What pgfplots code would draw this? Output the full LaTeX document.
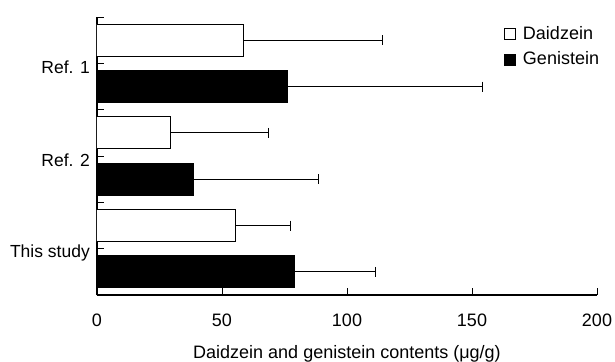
\documentclass[border=0pt]{standalone}
\usepackage{pgfplots}
\pgfplotsset{compat=1.18}
\usepackage{fontspec}
\setmainfont{Liberation Sans}
\begin{document}
\fontsize{18bp}{21bp}\selectfont
\begin{tikzpicture}
\path[use as bounding box] (-97bp,-67bp) rectangle (518bp,295bp);
\begin{axis}[
  at={(0,0)}, anchor=south west,
  scale only axis, width=500bp, height=278bp,
  xmin=0, xmax=200, ymin=0, ymax=6,
  axis x line=bottom, axis y line=left,
  axis line style={-, line width=1.6bp},
  xtick={0,50,100,150,200},
  ytick={0,1,2,3,4,5,6},
  yticklabels={,This study,,Ref. 2,,Ref. 1,},
  tick align=inside, major tick length=7bp,
  tick style={line width=1bp, black},
  y tick style={xshift=7bp},
  /pgf/number format/assume math mode=true,
  ticklabel style={font=\fontsize{18bp}{21bp}\selectfont},
  xticklabel style={yshift=-13bp},
  yticklabel style={yshift=-4bp, xshift=6bp, font=\fontsize{17.5bp}{20bp}\selectfont},
  xlabel={Daidzein and genistein contents (μg/g)},
  xlabel style={font=\fontsize{18bp}{21bp}\selectfont, yshift=-6bp},
  xbar, bar width=32bp, bar shift=0pt,
  legend style={at={(0.814,0.975)}, anchor=north west, draw=none, fill=none,
    font=\fontsize{18bp}{21bp}\selectfont, row sep=6bp, inner sep=0pt},
  legend cell align=left,
  legend image code/.code={\draw[#1, draw=black, line width=0.8bp] (0bp,-5.5bp) rectangle (11bp,5.5bp);},
  error bars/error bar style={line width=1bp, black},
  error bars/error mark options={rotate=90, mark size=5bp, line width=1bp, black},
]
\addplot[fill=white, draw=black, line width=1bp,
  error bars/.cd, x dir=plus, x explicit]
  coordinates {(58.6,5.5) +- (55.7,0) (29.6,3.5) +- (39.0,0) (55.4,1.5) +- (21.8,0)};
\addlegendentry{\hspace{5bp}Daidzein}
\addplot[fill=black, draw=black, line width=1bp,
  error bars/.cd, x dir=plus, x explicit]
  coordinates {(76.2,4.5) +- (78.0,0) (38.6,2.5) +- (49.8,0) (79.1,0.5) +- (32.4,0)};
\addlegendentry{\hspace{5bp}Genistein}
\end{axis}
\end{tikzpicture}
\end{document}
